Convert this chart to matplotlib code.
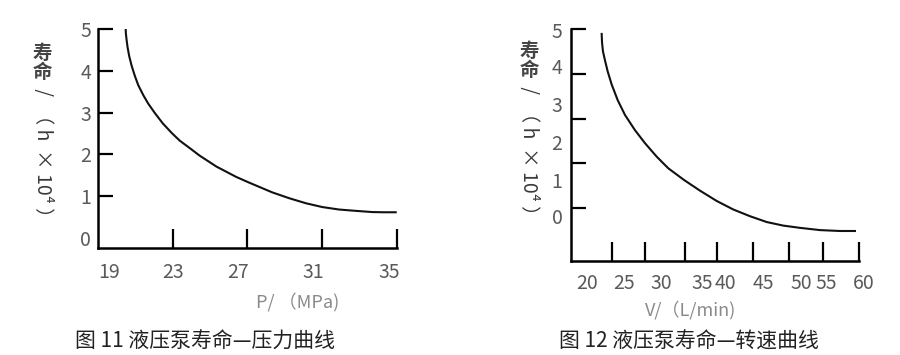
import numpy as np
import matplotlib
matplotlib.use('Agg')
import matplotlib.pyplot as plt

plt.rcParams['font.family'] = ['Noto Sans CJK SC', 'DejaVu Sans']

# 图11 data: life vs pressure
pressure = [20.48, 20.49, 20.53, 20.58, 20.67, 20.80, 20.97, 21.15, 21.42, 21.68, 22.04, 22.47,
            22.95, 23.37, 23.91, 24.44, 25.33, 26.40, 27.11, 27.64, 28.33, 29.24, 30.13, 31.00,
            31.91, 32.76, 33.67, 34.31, 34.93]
life_p = [5.04, 4.90, 4.74, 4.57, 4.35, 4.12, 3.88, 3.66, 3.42, 3.22, 2.99, 2.74,
          2.51, 2.33, 2.15, 1.97, 1.71, 1.46, 1.32, 1.22, 1.09, 0.95, 0.83, 0.74,
          0.68, 0.65, 0.62, 0.615, 0.615]
p_ticks = [23, 27, 31, 35]
p_labels = ['19', '23', '27', '31', '35']
p_label_pos = [19.6, 23.0, 26.5, 30.5, 34.6]

# 图12 data: life vs flow
flow = [24.26, 24.31, 24.44, 24.72, 25.10, 25.65, 26.49, 27.50, 28.89, 30.28, 31.90, 33.51,
        35.69, 37.92, 40.24, 42.54, 44.86, 47.18, 49.49, 51.81, 54.58, 57.36, 59.44]
life_v = [4.89, 4.70, 4.50, 4.30, 4.05, 3.76, 3.41, 3.08, 2.74, 2.45, 2.15, 1.89,
          1.63, 1.39, 1.16, 0.97, 0.82, 0.69, 0.61, 0.56, 0.51, 0.49, 0.49]
v_ticks = [25.65, 30.3, 35.9, 40.3, 45.3, 50.3, 55.0, 60.0]
v_labels = ['20', '25', '30', '35', '40', '45', '50', '55', '60']
v_label_pos = [22.2, 27.4, 32.6, 38.2, 41.5, 46.7, 52.0, 55.4, 60.6]
v_yticks = [1, 2, 3, 4, 5]
v_ylabels = ['5', '4', '3', '2', '1', '0']
v_ylabel_pos = [4.93, 4.11, 3.26, 2.43, 1.58, 0.78]

W, H = 900, 355
fig = plt.figure(figsize=(9, 3.55), dpi=100)

tick_col = '#5a5a5a'
lab_col = '#8a8a8a'
ylab_col = '#3a3a3a'


def make_axes(x0, x1, y0, y1):
    ax = fig.add_axes([x0 / W, 1 - y1 / H, (x1 - x0) / W, (y1 - y0) / H])
    for s in ['top', 'right']:
        ax.spines[s].set_visible(False)
    for s in ['left', 'bottom']:
        ax.spines[s].set_linewidth(1.8)
        ax.spines[s].set_color('black')
    ax.tick_params(axis='y', direction='in', length=11, width=1.6, colors='black')
    ax.tick_params(axis='x', direction='in', length=14, width=1.6, colors='black')
    ax.set_facecolor('none')
    return ax


def ylabel(xc, ytop):
    fig.text(xc / W, 1 - ytop / H, '寿\n命', ha='center', va='top', fontsize=14,
             color='#444444', fontweight='bold', linespacing=1.0)
    fig.text(xc / W, 1 - (ytop + 40) / H, ' /  （ h  × 10⁴ ）', ha='center', va='top',
             rotation=-90, fontsize=14, color=ylab_col)


# ---- left chart ----
ax1 = make_axes(98, 397, 29, 248)
ax1.plot(pressure, life_p, color='#111111', lw=1.5)
ax1.set_xlim(19, 35)
ax1.set_ylim(-0.24, 5)
ax1.set_yticks([0, 1, 2, 3, 4, 5])
ax1.set_yticklabels(['0', '1', '2', '3', '4', '5'], fontsize=14, color=tick_col)
ax1.tick_params(axis='y', pad=5)
ax1.yaxis.get_major_ticks()[0].tick1line.set_visible(False)
ax1.set_xticks(p_ticks)
ax1.set_xticklabels([])
for lbl, xp in zip(p_labels, p_label_pos):
    ax1.annotate(lbl, xy=(xp, 0), xycoords=('data', 'axes fraction'), xytext=(0, -18),
                 textcoords='offset points', ha='center', va='center', fontsize=14, color=tick_col)
fig.text(298 / W, 1 - 302 / H, 'P/ （MPa)', ha='center', va='center', fontsize=13, color=lab_col)
ylabel(42, 44)
fig.text(205 / W, 1 - 342 / H, '图 11 液压泵寿命—压力曲线', ha='center', va='center',
         fontsize=15, style='italic', color='#222222')

# ---- right chart ----
ax2 = make_axes(571, 859, 29, 261)
ax2.plot(flow, life_v, color='#111111', lw=1.5)
ax2.set_xlim(20, 60)
ax2.set_ylim(-0.18, 5)
ax2.set_yticks(v_yticks)
ax2.set_yticklabels([])
ax2.set_xticks(v_ticks)
ax2.set_xticklabels([])
for lbl, xp in zip(v_labels, v_label_pos):
    ax2.annotate(lbl, xy=(xp, 0), xycoords=('data', 'axes fraction'), xytext=(0, -16),
                 textcoords='offset points', ha='center', va='center', fontsize=14, color=tick_col)
for lbl, yp in zip(v_ylabels, v_ylabel_pos):
    ax2.annotate(lbl, xy=(0, yp), xycoords=('axes fraction', 'data'), xytext=(-10, 0),
                 textcoords='offset points', ha='center', va='center', fontsize=14, color=tick_col)
fig.text(691 / W, 1 - 310 / H, 'V/（L/min)', ha='center', va='center', fontsize=13, color=lab_col)
ylabel(529, 42)
fig.text(689 / W, 1 - 342 / H, '图 12 液压泵寿命—转速曲线', ha='center', va='center',
         fontsize=15, style='italic', color='#222222')

fig.savefig('out.png', dpi=100, facecolor='white')
